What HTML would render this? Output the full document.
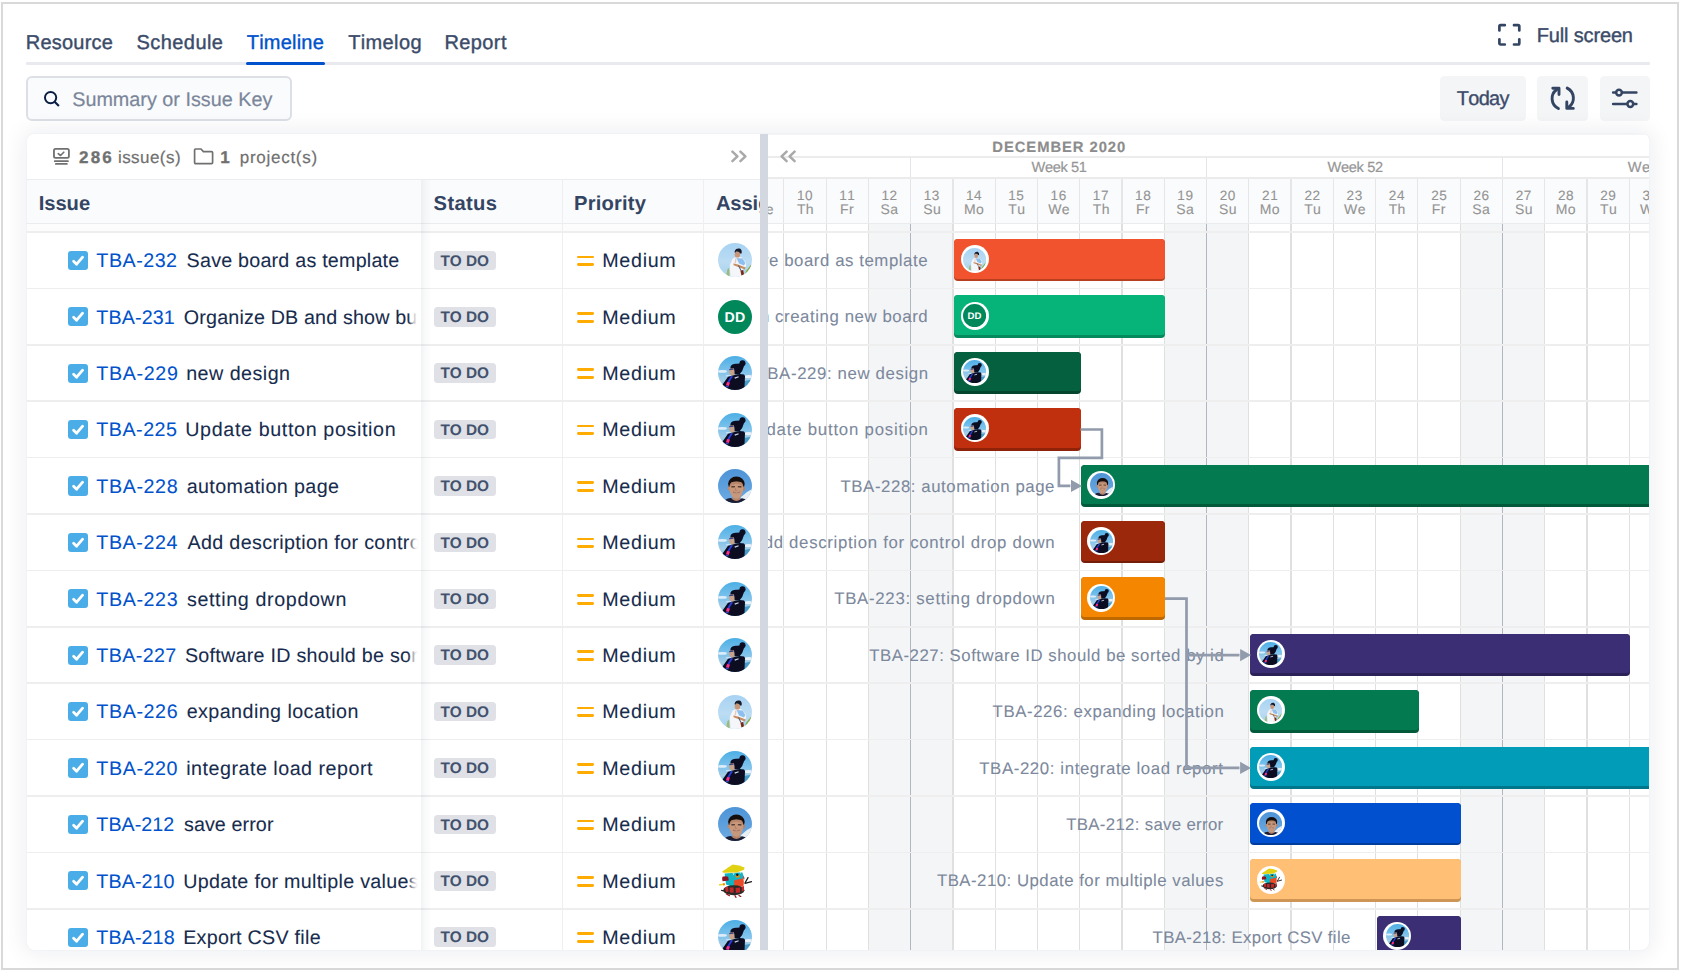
<!DOCTYPE html>
<html lang="en"><head><meta charset="utf-8"><title>Timeline</title>
<style>
html,body{margin:0;padding:0;background:#fff;}
body{width:1681px;height:970px;position:relative;overflow:hidden;font-family:"Liberation Sans",sans-serif;}
.abs{position:absolute;}
.t{position:absolute;white-space:nowrap;text-rendering:geometricPrecision;font-kerning:none;font-family:"Liberation Sans",sans-serif;}
#frame{position:absolute;left:1px;top:2px;width:1674px;height:964px;border:2px solid #d9d9d9;}
#card{position:absolute;left:27px;top:134px;width:1622px;height:816px;border-radius:8px 6px 8px 8px;background:#fff;box-shadow:0 0 22px 4px rgba(9,30,66,.07),0 0 2px rgba(9,30,66,.06);}
#cardin{position:absolute;left:0;top:0;width:1622px;height:816px;border-radius:8px 6px 8px 8px;overflow:hidden;}
.hl{position:absolute;height:1px;background:#e6e8eb;}
.vl{position:absolute;width:1px;background:#e6e8eb;}
.btn{position:absolute;background:#f4f5f7;border-radius:4.5px;}
.lz{position:absolute;background:#ebecf0;border-radius:3.5px;}
.bar{position:absolute;border-radius:4px;}
.av{position:absolute;border-radius:50%;overflow:hidden;}
svg{display:block}
</style></head><body>
<svg width="0" height="0" style="position:absolute">
<defs>
<clipPath id="cc"><circle cx="17" cy="17" r="17"/></clipPath>
<filter id="bl" x="-10%" y="-10%" width="120%" height="120%"><feGaussianBlur stdDeviation="0.42"/></filter>
<linearGradient id="gA" x1="0" y1="0" x2="0" y2="1"><stop offset="0" stop-color="#a5d2f3"/><stop offset=".55" stop-color="#bcdcf3"/><stop offset="1" stop-color="#9ed2ee"/></linearGradient>
<linearGradient id="gB" x1="0" y1="0" x2="0" y2="1"><stop offset="0" stop-color="#47ace4"/><stop offset=".45" stop-color="#7cc2ec"/><stop offset=".7" stop-color="#a5cde6"/><stop offset="1" stop-color="#5aa6cf"/></linearGradient>
<linearGradient id="gC" x1="0" y1="0" x2="0" y2="1"><stop offset="0" stop-color="#4c93d6"/><stop offset="1" stop-color="#6eabe3"/></linearGradient>
<symbol id="avA" viewBox="0 0 34 34"><g clip-path="url(#cc)">
<rect x="-2" y="-2" width="38" height="38" fill="url(#gA)"/><g filter="url(#bl)">
<path d="M28 28 L33.5 21 L34 34 L26 34Z" fill="#86ad45"/>
<path d="M9.5 26 L11 25 L11.5 34 L8 34Z" fill="#a4b868"/>
<path d="M14.7 15.6 Q18 13.6 23.6 14.3 L27.6 19 L28.2 23.6 L25.4 24.2 L24.4 34 L12.4 34 L11.8 22Z" fill="#f4f6fa"/>
<path d="M18.6 15 L24.6 15.4 L27.4 20 L26 22.6 L21 20.4Z" fill="#8ec0ef"/>
<path d="M17.2 15.4 L18.6 15 L18 20 L16.6 20.5Z" fill="#e7c9bb"/>
<ellipse cx="19.4" cy="11.4" rx="2.7" ry="3.2" fill="#c99778"/>
<path d="M16.6 8.6 Q17.6 5 21.4 5.6 Q24.4 6.4 23.6 10.6 L22.2 10.4 Q21 7.8 18 8.6 L17 10Z" fill="#181a2a"/>
<path d="M15.4 20.4 Q20 21 27.4 24.6 L27 26.4 Q20.6 24 15.6 22.2Z" fill="#c78c5e"/>
<path d="M22.4 27.4 L25.2 27 L26 31.4 L23.4 32.6Z" fill="#7b2b15"/>
<path d="M20 22.4 L22.4 27.6 L23.4 27.2 L21 22.6Z" fill="#4e5a6a"/>
</g></g></symbol>
<symbol id="avB" viewBox="0 0 34 34"><g clip-path="url(#cc)">
<rect x="-2" y="-2" width="38" height="38" fill="url(#gB)"/><g filter="url(#bl)">
<ellipse cx="4" cy="15.400" rx="5" ry="1.400" fill="#e9f2fa" opacity=".9"/>
<ellipse cx="30.600" cy="20.600" rx="4.400" ry="1.600" fill="#eef4fa" opacity=".95"/>
<ellipse cx="10.500" cy="19.800" rx="3" ry=".8" fill="#dceaf6" opacity=".8"/>
<path d="M25.500 25 L35 23.400 L35 35 L24 35Z" fill="#4a9cc8"/>
<path d="M11.200 13.400 Q11.600 11.600 14 11.600 L16.600 12.600 L17 18.400 Q15.600 20.200 13.200 19.600 Q11.400 18.600 11 16.200Z" fill="#c8a38c"/>
<path d="M11.200 12.900 L15.400 12.300 L15.600 13.800 L11.300 14.300Z" fill="#3b4184"/>
<circle cx="24.500" cy="7.300" r="3" fill="#080b22"/>
<path d="M12.600 10.400 Q14 7.400 19 7.800 Q22.600 7.200 24.500 7.300 L26 10 Q24.800 15 21.800 18 L16.600 18.200 Q16.600 13.400 15.600 12 L12.400 12.400Z" fill="#080b22"/>
<path d="M3.600 30 L10 20.800 L15 19.400 Q20 17 26 18.400 L27 20 L26.400 33 L17 36 L7 34Z" fill="#070a20"/>
<path d="M13 19.800 L15 20.400 L10.800 27 L9 26.400Z" fill="#2b3cd4"/>
<path d="M9 26 L12 26.600 L10.800 30 L8 29.200Z" fill="#ff2d8a"/>
<path d="M7.800 29.400 L10.800 30.200 L10.400 31.600 L7.400 30.800Z" fill="#3646c8"/>
<path d="M16.400 21.600 L20.400 20.200 L20.800 21.200 L17 22.800Z" fill="#cfd8e8"/>
</g></g></symbol>
<symbol id="avC" viewBox="0 0 34 34"><g clip-path="url(#cc)">
<rect x="-2" y="-2" width="38" height="38" fill="url(#gC)"/><g filter="url(#bl)">
<path d="M22.500 28.600 Q28 22.600 35 19.400 L35 29.500 L27 32.500Z" fill="#e9eef3"/>
<path d="M5 32.400 Q9.500 29 12.800 29 Q18.400 33 24 29.200 L30 31 L23 36 L9 36Z" fill="#1b1a30"/>
<path d="M15 27 L21.800 27 L22.400 30.600 Q18.400 33.400 14.400 30.600Z" fill="#b98466"/>
<ellipse cx="18.400" cy="14.800" rx="8.300" ry="7.300" fill="#17110f"/>
<ellipse cx="10.900" cy="19.600" rx="1.300" ry="2.100" fill="#bd896c"/>
<ellipse cx="25.800" cy="19.600" rx="1.200" ry="2.100" fill="#b68266"/>
<path d="M11.500 18 Q11.600 13.600 14.600 12.900 Q18.400 12 22.200 12.900 Q25.200 13.600 25.300 18 Q25.300 24 22.400 27.800 Q18.400 31.600 14.400 27.800 Q11.500 24 11.500 18Z" fill="#c8987c"/>
<path d="M11.500 18 Q11.600 13.600 14.600 12.900 Q18.400 12 22.200 12.900 Q25.200 13.600 25.300 18 Q22 14.600 18.400 14.800 Q14.800 14.600 11.500 18Z" fill="#a8775c" opacity=".55"/>
<path d="M13.400 17.900 L17 17.700 M19.800 17.700 L23.400 17.900" stroke="#3a231b" stroke-width="1.100" fill="none"/>
<path d="M17.600 19 L17.200 21.400 L19.400 21.400" stroke="#a87458" stroke-width=".6" fill="none"/>
<path d="M15 23.200 Q18.400 26 21.800 23.200 Q18.400 24 15 23.200Z" fill="#f2e6df" stroke="#8a5040" stroke-width=".5"/>
</g></g></symbol>
<symbol id="avD" viewBox="0 0 34 34"><g clip-path="url(#cc)">
<rect width="34" height="34" fill="#ffffff"/>
<path d="M27 19 L30 13.6 M27 19.4 L33.6 17.6" stroke="#1c1c1c" stroke-width="1.3" stroke-linecap="round"/>
<path d="M1.6 20.8 L6.6 20.2" stroke="#e6d21e" stroke-width="1.4" stroke-linecap="round"/>
<path d="M5 20.4 L6.8 20.2" stroke="#ee8a1e" stroke-width="2.2"/>
<path d="M3.4 26.4 L6 27" stroke="#1c1c1c" stroke-width="1.2" stroke-linecap="round"/>
<path d="M6.6 9.4 L24.2 8.2 Q26 11 25.4 14.6 L16 23.2 L8 20.4Z" fill="#11b4c2"/>
<path d="M16.1 16.2 L25.4 14.2 Q26.4 18 25.4 22.4 L16.1 23.6Z" fill="#e94b26"/>
<path d="M25 11.4 Q26.8 12.6 26.4 15.6 L25.4 14.4Z" fill="#a81c2a"/>
<path d="M4.4 12.8 Q7 11.6 10.2 12.8 L10.8 16.4 L4.6 17.2 Q3.8 15 4.4 12.8Z" fill="#8c1224"/>
<ellipse cx="15.8" cy="26.2" rx="10.6" ry="5" fill="#2a2a27"/>
<path d="M6.8 23.4 L10 22.6 L10.6 27.6 L8 28.2Z M11.6 23.4 L15.6 23.6 L15.6 28.8 L11.8 28.6Z M17.6 24 L22 23.4 L22 28.6 L17.8 29Z M23.6 23 L26 22 L26 26.6 L23.8 27.6Z" fill="#c2272b"/>
<path d="M8.4 30 L11.4 31.6 M17 31.6 L18 33.4 M21 31.4 L23 32.8" stroke="#9a1a20" stroke-width="1.2" stroke-linecap="round"/>
<path d="M4.2 7.6 L14.6 .6 Q21 1.2 26.6 3.6 L26 5.8 Q22 7.6 18.6 8.4 L5 8.8Z" fill="#e1d113"/>
<path d="M14.4 9.6 L16.6 9.2 L15.6 11Z M21.6 8.6 L23.6 8.2 L22.8 9.8Z" fill="#f4f4ee"/>
<ellipse cx="19.6" cy="12.2" rx="2.4" ry="1.5" fill="#d98a1c"/>
<circle cx="19.3" cy="10.8" r="1.2" fill="#121212"/>
</g></symbol>
<symbol id="avDD" viewBox="0 0 34 34"><circle cx="17" cy="17" r="17" fill="#00875a"/></symbol>
</defs></svg>

<div id="frame"></div>
<span class="t" style="left:25.76px;top:33px;font-size:20.0px;line-height:20.0px;font-weight:400;color:#3b4b69;letter-spacing:0.233px;-webkit-text-stroke:0.38px #3b4b69;">Resource</span>
<span class="t" style="left:136.49px;top:33px;font-size:20.0px;line-height:20.0px;font-weight:400;color:#3b4b69;letter-spacing:0.443px;-webkit-text-stroke:0.38px #3b4b69;">Schedule</span>
<span class="t" style="left:246.75px;top:33px;font-size:20.0px;line-height:20.0px;font-weight:400;color:#0052cc;letter-spacing:0.209px;-webkit-text-stroke:0.38px #0052cc;">Timeline</span>
<span class="t" style="left:348.15px;top:33px;font-size:20.0px;line-height:20.0px;font-weight:400;color:#3b4b69;letter-spacing:0.384px;-webkit-text-stroke:0.38px #3b4b69;">Timelog</span>
<span class="t" style="left:444.46px;top:33px;font-size:20.0px;line-height:20.0px;font-weight:400;color:#3b4b69;letter-spacing:0.392px;-webkit-text-stroke:0.38px #3b4b69;">Report</span>
<div class="abs" style="left:26px;top:62.4px;width:1624px;height:2.4px;background:#e9eaef;border-radius:1px"></div>
<div class="abs" style="left:246px;top:61.6px;width:79px;height:3.5px;background:#0052cc;border-radius:2px"></div>
<svg class="abs" style="left:0;top:0" width="1681" height="130" viewBox="0 0 1681 130" fill="none" stroke="#344563" stroke-width="2.7" stroke-linecap="round" stroke-linejoin="round"><path d="M1499.4 30.4V26.400a1.200 1.200 0 0 1 1.200-1.200H1504.800M1514 25.200h4.100a1.200 1.200 0 0 1 1.200 1.200V30.400M1519.300 39.300v4a1.200 1.200 0 0 1-1.200 1.200H1514M1504.800 44.500h-4.200a1.200 1.200 0 0 1-1.200-1.200V39.300"/></svg>
<span class="t" style="left:1536.76px;top:26px;font-size:20.0px;line-height:20.0px;font-weight:400;color:#3b4b69;letter-spacing:-0.157px;-webkit-text-stroke:0.38px #3b4b69;">Full screen</span>
<div class="abs" style="left:26px;top:76px;width:262px;height:41px;border:2px solid #dcdfe5;border-radius:6px;background:#fafbfc"></div>
<svg class="abs" style="left:40px;top:86px" width="24" height="24" viewBox="40 86 24 24" fill="none" stroke="#091e42" stroke-width="1.95"><circle cx="50.6" cy="97.6" r="5.65"/><path d="M54.6 101.700 L58.900 106.050" stroke-width="2.1"/></svg>
<span class="t" style="left:72.20px;top:91px;font-size:19.8px;line-height:19.8px;font-weight:400;color:#7a869a;letter-spacing:0.004px;-webkit-text-stroke:0.2px #7a869a;">Summary or Issue Key</span>
<div class="btn" style="left:1440.3px;top:76px;width:85.9px;height:44.8px"></div>
<span class="t" style="left:1456.85px;top:90px;font-size:19.9px;line-height:19.9px;font-weight:400;color:#3b4b69;letter-spacing:-0.681px;-webkit-text-stroke:0.35px #3b4b69;">Today</span>
<div class="btn" style="left:1537.3px;top:76px;width:50.7px;height:44.8px"></div>
<div class="btn" style="left:1599.5px;top:76px;width:50.3px;height:44.8px"></div>
<svg class="abs" style="left:1540px;top:80px" width="44" height="36" viewBox="1540 80 44 36" fill="none" stroke="#344563" stroke-width="2.9" stroke-linecap="round" stroke-linejoin="round"><path d="M1558.400 108.500C1550.600 104.600 1550 94.400 1556.800 89.500"/><path d="M1552.800 88.300H1559V94.500"/><path d="M1567.200 88.100C1574.800 92 1575.400 102 1569 107"/><path d="M1573.300 108.400H1566.800V101.900"/></svg>
<svg class="abs" style="left:1606px;top:82px" width="38" height="32" viewBox="1606 82 38 32" fill="none" stroke="#344563" stroke-width="2.5" stroke-linecap="round"><path d="M1613.100 92.600H1616M1622 92.600H1636.400M1613.100 104H1627.300M1633.300 104H1636.400"/><circle cx="1619" cy="92.600" r="2.900"/><circle cx="1630.300" cy="104" r="2.900"/></svg>
<div id="card"><div id="cardin">
<div class="abs" style="left:841.08px;top:90.00px;width:42.27px;height:730.00px;background:#f4f5f7"></div>
<div class="abs" style="left:883.35px;top:90.00px;width:42.27px;height:730.00px;background:#f4f5f7"></div>
<div class="abs" style="left:1136.97px;top:90.00px;width:42.27px;height:730.00px;background:#f4f5f7"></div>
<div class="abs" style="left:1179.24px;top:90.00px;width:42.27px;height:730.00px;background:#f4f5f7"></div>
<div class="abs" style="left:1432.86px;top:90.00px;width:42.27px;height:730.00px;background:#f4f5f7"></div>
<div class="abs" style="left:1475.13px;top:90.00px;width:42.27px;height:730.00px;background:#f4f5f7"></div>
<div class="abs" style="left:740.00px;top:44.00px;width:900.00px;height:46.00px;background:#fafbfc"></div>
<div class="abs" style="left:756.24px;top:44.00px;width:1.20px;height:46.00px;background:#e6e6e8"></div>
<div class="abs" style="left:756.24px;top:90.00px;width:1.20px;height:730.00px;background:#e0e0e1"></div>
<div class="abs" style="left:798.51px;top:44.00px;width:1.20px;height:46.00px;background:#e6e6e8"></div>
<div class="abs" style="left:798.51px;top:90.00px;width:1.20px;height:730.00px;background:#e0e0e1"></div>
<div class="abs" style="left:840.78px;top:44.00px;width:1.20px;height:46.00px;background:#e6e6e8"></div>
<div class="abs" style="left:840.78px;top:90.00px;width:1.20px;height:730.00px;background:#e0e0e1"></div>
<div class="abs" style="left:883.00px;top:23.00px;width:1.30px;height:67.00px;background:#e4e5e8"></div>
<div class="abs" style="left:882.80px;top:90.00px;width:1.70px;height:730.00px;background:#b2b6bf"></div>
<div class="abs" style="left:925.32px;top:44.00px;width:1.20px;height:46.00px;background:#e6e6e8"></div>
<div class="abs" style="left:925.32px;top:90.00px;width:1.20px;height:730.00px;background:#e0e0e1"></div>
<div class="abs" style="left:967.59px;top:44.00px;width:1.20px;height:46.00px;background:#e6e6e8"></div>
<div class="abs" style="left:967.59px;top:90.00px;width:1.20px;height:730.00px;background:#e0e0e1"></div>
<div class="abs" style="left:1009.86px;top:44.00px;width:1.20px;height:46.00px;background:#e6e6e8"></div>
<div class="abs" style="left:1009.86px;top:90.00px;width:1.20px;height:730.00px;background:#e0e0e1"></div>
<div class="abs" style="left:1052.13px;top:44.00px;width:1.20px;height:46.00px;background:#e6e6e8"></div>
<div class="abs" style="left:1052.13px;top:90.00px;width:1.20px;height:730.00px;background:#e0e0e1"></div>
<div class="abs" style="left:1094.40px;top:44.00px;width:1.20px;height:46.00px;background:#e6e6e8"></div>
<div class="abs" style="left:1094.40px;top:90.00px;width:1.20px;height:730.00px;background:#e0e0e1"></div>
<div class="abs" style="left:1136.67px;top:44.00px;width:1.20px;height:46.00px;background:#e6e6e8"></div>
<div class="abs" style="left:1136.67px;top:90.00px;width:1.20px;height:730.00px;background:#e0e0e1"></div>
<div class="abs" style="left:1178.89px;top:23.00px;width:1.30px;height:67.00px;background:#e4e5e8"></div>
<div class="abs" style="left:1178.69px;top:90.00px;width:1.70px;height:730.00px;background:#b2b6bf"></div>
<div class="abs" style="left:1221.21px;top:44.00px;width:1.20px;height:46.00px;background:#e6e6e8"></div>
<div class="abs" style="left:1221.21px;top:90.00px;width:1.20px;height:730.00px;background:#e0e0e1"></div>
<div class="abs" style="left:1263.48px;top:44.00px;width:1.20px;height:46.00px;background:#e6e6e8"></div>
<div class="abs" style="left:1263.48px;top:90.00px;width:1.20px;height:730.00px;background:#e0e0e1"></div>
<div class="abs" style="left:1305.75px;top:44.00px;width:1.20px;height:46.00px;background:#e6e6e8"></div>
<div class="abs" style="left:1305.75px;top:90.00px;width:1.20px;height:730.00px;background:#e0e0e1"></div>
<div class="abs" style="left:1348.02px;top:44.00px;width:1.20px;height:46.00px;background:#e6e6e8"></div>
<div class="abs" style="left:1348.02px;top:90.00px;width:1.20px;height:730.00px;background:#e0e0e1"></div>
<div class="abs" style="left:1390.29px;top:44.00px;width:1.20px;height:46.00px;background:#e6e6e8"></div>
<div class="abs" style="left:1390.29px;top:90.00px;width:1.20px;height:730.00px;background:#e0e0e1"></div>
<div class="abs" style="left:1432.56px;top:44.00px;width:1.20px;height:46.00px;background:#e6e6e8"></div>
<div class="abs" style="left:1432.56px;top:90.00px;width:1.20px;height:730.00px;background:#e0e0e1"></div>
<div class="abs" style="left:1474.78px;top:23.00px;width:1.30px;height:67.00px;background:#e4e5e8"></div>
<div class="abs" style="left:1474.58px;top:90.00px;width:1.70px;height:730.00px;background:#b2b6bf"></div>
<div class="abs" style="left:1517.10px;top:44.00px;width:1.20px;height:46.00px;background:#e6e6e8"></div>
<div class="abs" style="left:1517.10px;top:90.00px;width:1.20px;height:730.00px;background:#e0e0e1"></div>
<div class="abs" style="left:1559.37px;top:44.00px;width:1.20px;height:46.00px;background:#e6e6e8"></div>
<div class="abs" style="left:1559.37px;top:90.00px;width:1.20px;height:730.00px;background:#e0e0e1"></div>
<div class="abs" style="left:1601.64px;top:44.00px;width:1.20px;height:46.00px;background:#e6e6e8"></div>
<div class="abs" style="left:1601.64px;top:90.00px;width:1.20px;height:730.00px;background:#e0e0e1"></div>
<div class="abs" style="left:1643.91px;top:44.00px;width:1.20px;height:46.00px;background:#e6e6e8"></div>
<div class="abs" style="left:1643.91px;top:90.00px;width:1.20px;height:730.00px;background:#e0e0e1"></div>
<div class="abs" style="left:740.00px;top:22.20px;width:900.00px;height:1.40px;background:#ececec"></div>
<div class="abs" style="left:740.00px;top:43.40px;width:900.00px;height:1.40px;background:#ebebec"></div>
<div class="abs" style="left:740.00px;top:89.00px;width:900.00px;height:1.40px;background:#ebebec"></div>
<div class="abs" style="left:740.00px;top:97.20px;width:900.00px;height:1.60px;background:#eeeeef"></div>
<div class="abs" style="left:740.00px;top:153.60px;width:900.00px;height:1.60px;background:#eeeeef"></div>
<div class="abs" style="left:740.00px;top:210.00px;width:900.00px;height:1.60px;background:#eeeeef"></div>
<div class="abs" style="left:740.00px;top:266.40px;width:900.00px;height:1.60px;background:#eeeeef"></div>
<div class="abs" style="left:740.00px;top:322.80px;width:900.00px;height:1.60px;background:#eeeeef"></div>
<div class="abs" style="left:740.00px;top:379.20px;width:900.00px;height:1.60px;background:#eeeeef"></div>
<div class="abs" style="left:740.00px;top:435.60px;width:900.00px;height:1.60px;background:#eeeeef"></div>
<div class="abs" style="left:740.00px;top:492.00px;width:900.00px;height:1.60px;background:#eeeeef"></div>
<div class="abs" style="left:740.00px;top:548.40px;width:900.00px;height:1.60px;background:#eeeeef"></div>
<div class="abs" style="left:740.00px;top:604.80px;width:900.00px;height:1.60px;background:#eeeeef"></div>
<div class="abs" style="left:740.00px;top:661.20px;width:900.00px;height:1.60px;background:#eeeeef"></div>
<div class="abs" style="left:740.00px;top:717.60px;width:900.00px;height:1.60px;background:#eeeeef"></div>
<div class="abs" style="left:740.00px;top:774.00px;width:900.00px;height:1.60px;background:#eeeeef"></div>
<div class="abs" style="left:740.00px;top:830.40px;width:900.00px;height:1.60px;background:#eeeeef"></div>
<span class="t" style="left:965.31px;top:7px;font-size:14.8px;line-height:14.8px;font-weight:700;color:#8c8c8c;letter-spacing:0.939px;-webkit-text-stroke:0.15px #8c8c8c;">DECEMBER 2020</span>
<span class="t" style="left:1004.54px;top:27px;font-size:14.6px;line-height:14.6px;font-weight:400;color:#969696;letter-spacing:-0.373px;-webkit-text-stroke:0.2px #969696;">Week 51</span>
<span class="t" style="left:1300.44px;top:27px;font-size:14.6px;line-height:14.6px;font-weight:400;color:#969696;letter-spacing:-0.303px;-webkit-text-stroke:0.2px #969696;">Week 52</span>
<span class="t" style="left:1600.84px;top:27px;font-size:14.6px;line-height:14.6px;font-weight:400;color:#969696;letter-spacing:0.350px;-webkit-text-stroke:0.2px #969696;">Week 53</span>
<span class="t" style="left:731.93px;top:55px;font-size:13.6px;line-height:13.6px;font-weight:400;color:#939393;letter-spacing:0.550px;-webkit-text-stroke:0.1px #939393;">9</span>
<span class="t" style="left:725.31px;top:68px;font-size:14.0px;line-height:14.0px;font-weight:400;color:#939393;letter-spacing:0.350px;-webkit-text-stroke:0.1px #939393;">We</span>
<span class="t" style="left:769.88px;top:55px;font-size:13.6px;line-height:13.6px;font-weight:400;color:#939393;letter-spacing:0.550px;-webkit-text-stroke:0.1px #939393;">10</span>
<span class="t" style="left:769.93px;top:68px;font-size:14.0px;line-height:14.0px;font-weight:400;color:#939393;letter-spacing:0.350px;-webkit-text-stroke:0.1px #939393;">Th</span>
<span class="t" style="left:812.22px;top:55px;font-size:13.6px;line-height:13.6px;font-weight:400;color:#939393;letter-spacing:0.550px;-webkit-text-stroke:0.1px #939393;">11</span>
<span class="t" style="left:813.01px;top:68px;font-size:14.0px;line-height:14.0px;font-weight:400;color:#939393;letter-spacing:0.350px;-webkit-text-stroke:0.1px #939393;">Fr</span>
<span class="t" style="left:854.50px;top:55px;font-size:13.6px;line-height:13.6px;font-weight:400;color:#939393;letter-spacing:0.550px;-webkit-text-stroke:0.1px #939393;">12</span>
<span class="t" style="left:853.46px;top:68px;font-size:14.0px;line-height:14.0px;font-weight:400;color:#939393;letter-spacing:0.350px;-webkit-text-stroke:0.1px #939393;">Sa</span>
<span class="t" style="left:896.73px;top:55px;font-size:13.6px;line-height:13.6px;font-weight:400;color:#939393;letter-spacing:0.550px;-webkit-text-stroke:0.1px #939393;">13</span>
<span class="t" style="left:896.19px;top:68px;font-size:14.0px;line-height:14.0px;font-weight:400;color:#939393;letter-spacing:0.350px;-webkit-text-stroke:0.1px #939393;">Su</span>
<span class="t" style="left:938.90px;top:55px;font-size:13.6px;line-height:13.6px;font-weight:400;color:#939393;letter-spacing:0.550px;-webkit-text-stroke:0.1px #939393;">14</span>
<span class="t" style="left:936.88px;top:68px;font-size:14.0px;line-height:14.0px;font-weight:400;color:#939393;letter-spacing:0.350px;-webkit-text-stroke:0.1px #939393;">Mo</span>
<span class="t" style="left:981.25px;top:55px;font-size:13.6px;line-height:13.6px;font-weight:400;color:#939393;letter-spacing:0.550px;-webkit-text-stroke:0.1px #939393;">15</span>
<span class="t" style="left:981.29px;top:68px;font-size:14.0px;line-height:14.0px;font-weight:400;color:#939393;letter-spacing:0.350px;-webkit-text-stroke:0.1px #939393;">Tu</span>
<span class="t" style="left:1023.54px;top:55px;font-size:13.6px;line-height:13.6px;font-weight:400;color:#939393;letter-spacing:0.550px;-webkit-text-stroke:0.1px #939393;">16</span>
<span class="t" style="left:1021.20px;top:68px;font-size:14.0px;line-height:14.0px;font-weight:400;color:#939393;letter-spacing:0.350px;-webkit-text-stroke:0.1px #939393;">We</span>
<span class="t" style="left:1065.85px;top:55px;font-size:13.6px;line-height:13.6px;font-weight:400;color:#939393;letter-spacing:0.550px;-webkit-text-stroke:0.1px #939393;">17</span>
<span class="t" style="left:1065.82px;top:68px;font-size:14.0px;line-height:14.0px;font-weight:400;color:#939393;letter-spacing:0.350px;-webkit-text-stroke:0.1px #939393;">Th</span>
<span class="t" style="left:1108.07px;top:55px;font-size:13.6px;line-height:13.6px;font-weight:400;color:#939393;letter-spacing:0.550px;-webkit-text-stroke:0.1px #939393;">18</span>
<span class="t" style="left:1108.90px;top:68px;font-size:14.0px;line-height:14.0px;font-weight:400;color:#939393;letter-spacing:0.350px;-webkit-text-stroke:0.1px #939393;">Fr</span>
<span class="t" style="left:1150.37px;top:55px;font-size:13.6px;line-height:13.6px;font-weight:400;color:#939393;letter-spacing:0.550px;-webkit-text-stroke:0.1px #939393;">19</span>
<span class="t" style="left:1149.35px;top:68px;font-size:14.0px;line-height:14.0px;font-weight:400;color:#939393;letter-spacing:0.350px;-webkit-text-stroke:0.1px #939393;">Sa</span>
<span class="t" style="left:1192.76px;top:55px;font-size:13.6px;line-height:13.6px;font-weight:400;color:#939393;letter-spacing:0.550px;-webkit-text-stroke:0.1px #939393;">20</span>
<span class="t" style="left:1192.08px;top:68px;font-size:14.0px;line-height:14.0px;font-weight:400;color:#939393;letter-spacing:0.350px;-webkit-text-stroke:0.1px #939393;">Su</span>
<span class="t" style="left:1235.10px;top:55px;font-size:13.6px;line-height:13.6px;font-weight:400;color:#939393;letter-spacing:0.550px;-webkit-text-stroke:0.1px #939393;">21</span>
<span class="t" style="left:1232.77px;top:68px;font-size:14.0px;line-height:14.0px;font-weight:400;color:#939393;letter-spacing:0.350px;-webkit-text-stroke:0.1px #939393;">Mo</span>
<span class="t" style="left:1277.38px;top:55px;font-size:13.6px;line-height:13.6px;font-weight:400;color:#939393;letter-spacing:0.550px;-webkit-text-stroke:0.1px #939393;">22</span>
<span class="t" style="left:1277.18px;top:68px;font-size:14.0px;line-height:14.0px;font-weight:400;color:#939393;letter-spacing:0.350px;-webkit-text-stroke:0.1px #939393;">Tu</span>
<span class="t" style="left:1319.60px;top:55px;font-size:13.6px;line-height:13.6px;font-weight:400;color:#939393;letter-spacing:0.550px;-webkit-text-stroke:0.1px #939393;">23</span>
<span class="t" style="left:1317.09px;top:68px;font-size:14.0px;line-height:14.0px;font-weight:400;color:#939393;letter-spacing:0.350px;-webkit-text-stroke:0.1px #939393;">We</span>
<span class="t" style="left:1361.77px;top:55px;font-size:13.6px;line-height:13.6px;font-weight:400;color:#939393;letter-spacing:0.550px;-webkit-text-stroke:0.1px #939393;">24</span>
<span class="t" style="left:1361.71px;top:68px;font-size:14.0px;line-height:14.0px;font-weight:400;color:#939393;letter-spacing:0.350px;-webkit-text-stroke:0.1px #939393;">Th</span>
<span class="t" style="left:1404.13px;top:55px;font-size:13.6px;line-height:13.6px;font-weight:400;color:#939393;letter-spacing:0.550px;-webkit-text-stroke:0.1px #939393;">25</span>
<span class="t" style="left:1404.79px;top:68px;font-size:14.0px;line-height:14.0px;font-weight:400;color:#939393;letter-spacing:0.350px;-webkit-text-stroke:0.1px #939393;">Fr</span>
<span class="t" style="left:1446.41px;top:55px;font-size:13.6px;line-height:13.6px;font-weight:400;color:#939393;letter-spacing:0.550px;-webkit-text-stroke:0.1px #939393;">26</span>
<span class="t" style="left:1445.24px;top:68px;font-size:14.0px;line-height:14.0px;font-weight:400;color:#939393;letter-spacing:0.350px;-webkit-text-stroke:0.1px #939393;">Sa</span>
<span class="t" style="left:1488.73px;top:55px;font-size:13.6px;line-height:13.6px;font-weight:400;color:#939393;letter-spacing:0.550px;-webkit-text-stroke:0.1px #939393;">27</span>
<span class="t" style="left:1487.97px;top:68px;font-size:14.0px;line-height:14.0px;font-weight:400;color:#939393;letter-spacing:0.350px;-webkit-text-stroke:0.1px #939393;">Su</span>
<span class="t" style="left:1530.95px;top:55px;font-size:13.6px;line-height:13.6px;font-weight:400;color:#939393;letter-spacing:0.550px;-webkit-text-stroke:0.1px #939393;">28</span>
<span class="t" style="left:1528.66px;top:68px;font-size:14.0px;line-height:14.0px;font-weight:400;color:#939393;letter-spacing:0.350px;-webkit-text-stroke:0.1px #939393;">Mo</span>
<span class="t" style="left:1573.25px;top:55px;font-size:13.6px;line-height:13.6px;font-weight:400;color:#939393;letter-spacing:0.550px;-webkit-text-stroke:0.1px #939393;">29</span>
<span class="t" style="left:1573.07px;top:68px;font-size:14.0px;line-height:14.0px;font-weight:400;color:#939393;letter-spacing:0.350px;-webkit-text-stroke:0.1px #939393;">Tu</span>
<span class="t" style="left:1615.54px;top:55px;font-size:13.6px;line-height:13.6px;font-weight:400;color:#939393;letter-spacing:0.550px;-webkit-text-stroke:0.1px #939393;">30</span>
<span class="t" style="left:1612.98px;top:68px;font-size:14.0px;line-height:14.0px;font-weight:400;color:#939393;letter-spacing:0.350px;-webkit-text-stroke:0.1px #939393;">We</span>
<span class="t" style="left:1657.88px;top:55px;font-size:13.6px;line-height:13.6px;font-weight:400;color:#939393;letter-spacing:0.550px;-webkit-text-stroke:0.1px #939393;">31</span>
<span class="t" style="left:1657.60px;top:68px;font-size:14.0px;line-height:14.0px;font-weight:400;color:#939393;letter-spacing:0.350px;-webkit-text-stroke:0.1px #939393;">Th</span>
<svg class="abs" style="left:752px;top:15px" width="19" height="15" viewBox="0 0 19 15" fill="none" stroke="#a9a9a9" stroke-width="2.5" stroke-linecap="round" stroke-linejoin="round"><path d="M7.6 2.6 L2.6 7.4 L7.6 12.200 M15.600 2.600 L10.600 7.400 L15.600 12.200"/></svg>
<div class="abs" style="left:926.82px;top:105.00px;width:211.45px;height:42.40px;background:#b8401f;border-radius:4px"></div>
<div class="abs" style="left:926.82px;top:105.00px;width:211.45px;height:39.60px;background:#f0532d;border-radius:4px 4px 3.5px 3.5px"></div>
<span class="t" style="left:630.69px;top:119px;font-size:16.8px;line-height:16.8px;font-weight:400;color:#7c889c;letter-spacing:0.570px;-webkit-text-stroke:0.08px #7c889c;">TBA-232: Save board as template</span>
<div class="abs" style="left:926.82px;top:161.40px;width:211.45px;height:42.40px;background:#048a5c;border-radius:4px"></div>
<div class="abs" style="left:926.82px;top:161.40px;width:211.45px;height:39.60px;background:#06b47a;border-radius:4px 4px 3.5px 3.5px"></div>
<span class="t" style="left:374.83px;top:175px;font-size:16.8px;line-height:16.8px;font-weight:400;color:#7c889c;letter-spacing:0.580px;-webkit-text-stroke:0.08px #7c889c;">TBA-231: Organize DB and show button when creating new board</span>
<div class="abs" style="left:926.82px;top:217.80px;width:126.91px;height:42.40px;background:#03452d;border-radius:4px"></div>
<div class="abs" style="left:926.82px;top:217.80px;width:126.91px;height:39.60px;background:#04603f;border-radius:4px 4px 3.5px 3.5px"></div>
<span class="t" style="left:729.43px;top:232px;font-size:16.8px;line-height:16.8px;font-weight:400;color:#7c889c;letter-spacing:0.620px;-webkit-text-stroke:0.08px #7c889c;">TBA-229: new design</span>
<div class="abs" style="left:926.82px;top:274.20px;width:126.91px;height:42.40px;background:#8f230a;border-radius:4px"></div>
<div class="abs" style="left:926.82px;top:274.20px;width:126.91px;height:39.60px;background:#c0300e;border-radius:4px 4px 3.5px 3.5px"></div>
<span class="t" style="left:633.76px;top:288px;font-size:16.8px;line-height:16.8px;font-weight:400;color:#7c889c;letter-spacing:0.790px;-webkit-text-stroke:0.08px #7c889c;">TBA-225: Update button position</span>
<div class="abs" style="left:1053.63px;top:330.60px;width:1014.58px;height:42.40px;background:#025a3a;border-radius:4px"></div>
<div class="abs" style="left:1053.63px;top:330.60px;width:1014.58px;height:39.60px;background:#037a50;border-radius:4px 4px 3.5px 3.5px"></div>
<span class="t" style="left:813.52px;top:345px;font-size:16.8px;line-height:16.8px;font-weight:400;color:#7c889c;letter-spacing:0.581px;-webkit-text-stroke:0.08px #7c889c;">TBA-228: automation page</span>
<div class="abs" style="left:1053.63px;top:387.00px;width:84.64px;height:42.40px;background:#741d08;border-radius:4px"></div>
<div class="abs" style="left:1053.63px;top:387.00px;width:84.64px;height:39.60px;background:#9c280c;border-radius:4px 4px 3.5px 3.5px"></div>
<span class="t" style="left:643.05px;top:401px;font-size:16.8px;line-height:16.8px;font-weight:400;color:#7c889c;letter-spacing:0.690px;-webkit-text-stroke:0.08px #7c889c;">TBA-224: Add description for control drop down</span>
<div class="abs" style="left:1053.63px;top:443.40px;width:84.64px;height:42.40px;background:#bd6800;border-radius:4px"></div>
<div class="abs" style="left:1053.63px;top:443.40px;width:84.64px;height:39.60px;background:#f58700;border-radius:4px 4px 3.5px 3.5px"></div>
<span class="t" style="left:807.22px;top:457px;font-size:16.8px;line-height:16.8px;font-weight:400;color:#7c889c;letter-spacing:0.717px;-webkit-text-stroke:0.08px #7c889c;">TBA-223: setting dropdown</span>
<div class="abs" style="left:1222.71px;top:499.80px;width:380.53px;height:42.40px;background:#2b2157;border-radius:4px"></div>
<div class="abs" style="left:1222.71px;top:499.80px;width:380.53px;height:39.60px;background:#3b2e75;border-radius:4px 4px 3.5px 3.5px"></div>
<span class="t" style="left:842.22px;top:514px;font-size:16.8px;line-height:16.8px;font-weight:400;color:#7c889c;letter-spacing:0.534px;-webkit-text-stroke:0.08px #7c889c;">TBA-227: Software ID should be sorted by id</span>
<div class="abs" style="left:1222.71px;top:556.20px;width:169.18px;height:42.40px;background:#025a3a;border-radius:4px"></div>
<div class="abs" style="left:1222.71px;top:556.20px;width:169.18px;height:39.60px;background:#037a50;border-radius:4px 4px 3.5px 3.5px"></div>
<span class="t" style="left:965.52px;top:570px;font-size:16.8px;line-height:16.8px;font-weight:400;color:#7c889c;letter-spacing:0.609px;-webkit-text-stroke:0.08px #7c889c;">TBA-226: expanding location</span>
<div class="abs" style="left:1222.71px;top:612.60px;width:845.50px;height:42.40px;background:#00768b;border-radius:4px"></div>
<div class="abs" style="left:1222.71px;top:612.60px;width:845.50px;height:39.60px;background:#009cb8;border-radius:4px 4px 3.5px 3.5px"></div>
<span class="t" style="left:952.22px;top:627px;font-size:16.8px;line-height:16.8px;font-weight:400;color:#7c889c;letter-spacing:0.618px;-webkit-text-stroke:0.08px #7c889c;">TBA-220: integrate load report</span>
<div class="abs" style="left:1222.71px;top:669.00px;width:211.45px;height:42.40px;background:#003c9c;border-radius:4px"></div>
<div class="abs" style="left:1222.71px;top:669.00px;width:211.45px;height:39.60px;background:#0050cf;border-radius:4px 4px 3.5px 3.5px"></div>
<span class="t" style="left:1039.22px;top:683px;font-size:16.8px;line-height:16.8px;font-weight:400;color:#7c889c;letter-spacing:0.323px;-webkit-text-stroke:0.08px #7c889c;">TBA-212: save error</span>
<div class="abs" style="left:1222.71px;top:725.40px;width:211.45px;height:42.40px;background:#cf9555;border-radius:4px"></div>
<div class="abs" style="left:1222.71px;top:725.40px;width:211.45px;height:39.60px;background:#ffbf75;border-radius:4px 4px 3.5px 3.5px"></div>
<span class="t" style="left:909.92px;top:739px;font-size:16.8px;line-height:16.8px;font-weight:400;color:#7c889c;letter-spacing:0.495px;-webkit-text-stroke:0.08px #7c889c;">TBA-210: Update for multiple values</span>
<div class="abs" style="left:1349.52px;top:781.80px;width:84.64px;height:42.40px;background:#2b2157;border-radius:4px"></div>
<div class="abs" style="left:1349.52px;top:781.80px;width:84.64px;height:39.60px;background:#3b2e75;border-radius:4px 4px 3.5px 3.5px"></div>
<span class="t" style="left:1125.52px;top:796px;font-size:16.8px;line-height:16.8px;font-weight:400;color:#7c889c;letter-spacing:0.370px;-webkit-text-stroke:0.08px #7c889c;">TBA-218: Export CSV file</span>
<svg class="abs" style="left:0;top:0" width="1622" height="816" viewBox="27 134 1622 816" fill="none" stroke="#919bab" stroke-width="2.7"><path d="M1080.4 429.5 H1101.9 V457.8 H1058.9 V485.9 H1070.4"/><path d="M1082.0 485.9 l-11 -6.1 v12.2z" fill="#919bab" stroke="none"/><path d="M1165.0 598.7 H1186.5 V767.9 H1239.5 M1186.5 655.1 H1239.5"/><path d="M1251.1 655.1 l-11 -6.1 v12.2z" fill="#919bab" stroke="none"/><path d="M1251.1 767.9 l-11 -6.1 v12.2z" fill="#919bab" stroke="none"/></svg>
<div class="abs" style="left:933.62px;top:111.10px;width:28.00px;height:28.00px;background:#fff;border-radius:50%"></div>
<svg class="abs" style="left:936.02px;top:113.50px" width="23.2" height="23.2"><use href="#avA"/></svg>
<div class="abs" style="left:933.62px;top:167.50px;width:28.00px;height:28.00px;background:#fff;border-radius:50%"></div>
<svg class="abs" style="left:936.02px;top:169.90px" width="23.2" height="23.2"><use href="#avDD"/></svg>
<span class="t" style="left:940.52px;top:178px;font-size:9.6px;line-height:9.6px;font-weight:700;color:#fff;letter-spacing:0.100px;">DD</span>
<div class="abs" style="left:933.62px;top:223.90px;width:28.00px;height:28.00px;background:#fff;border-radius:50%"></div>
<svg class="abs" style="left:936.02px;top:226.30px" width="23.2" height="23.2"><use href="#avB"/></svg>
<div class="abs" style="left:933.62px;top:280.30px;width:28.00px;height:28.00px;background:#fff;border-radius:50%"></div>
<svg class="abs" style="left:936.02px;top:282.70px" width="23.2" height="23.2"><use href="#avB"/></svg>
<div class="abs" style="left:1060.43px;top:336.70px;width:28.00px;height:28.00px;background:#fff;border-radius:50%"></div>
<svg class="abs" style="left:1062.83px;top:339.10px" width="23.2" height="23.2"><use href="#avC"/></svg>
<div class="abs" style="left:1060.43px;top:393.10px;width:28.00px;height:28.00px;background:#fff;border-radius:50%"></div>
<svg class="abs" style="left:1062.83px;top:395.50px" width="23.2" height="23.2"><use href="#avB"/></svg>
<div class="abs" style="left:1060.43px;top:449.50px;width:28.00px;height:28.00px;background:#fff;border-radius:50%"></div>
<svg class="abs" style="left:1062.83px;top:451.90px" width="23.2" height="23.2"><use href="#avB"/></svg>
<div class="abs" style="left:1229.51px;top:505.90px;width:28.00px;height:28.00px;background:#fff;border-radius:50%"></div>
<svg class="abs" style="left:1231.91px;top:508.30px" width="23.2" height="23.2"><use href="#avB"/></svg>
<div class="abs" style="left:1229.51px;top:562.30px;width:28.00px;height:28.00px;background:#fff;border-radius:50%"></div>
<svg class="abs" style="left:1231.91px;top:564.70px" width="23.2" height="23.2"><use href="#avA"/></svg>
<div class="abs" style="left:1229.51px;top:618.70px;width:28.00px;height:28.00px;background:#fff;border-radius:50%"></div>
<svg class="abs" style="left:1231.91px;top:621.10px" width="23.2" height="23.2"><use href="#avB"/></svg>
<div class="abs" style="left:1229.51px;top:675.10px;width:28.00px;height:28.00px;background:#fff;border-radius:50%"></div>
<svg class="abs" style="left:1231.91px;top:677.50px" width="23.2" height="23.2"><use href="#avC"/></svg>
<div class="abs" style="left:1229.51px;top:731.50px;width:28.00px;height:28.00px;background:#fff;border-radius:50%"></div>
<svg class="abs" style="left:1231.91px;top:733.90px" width="23.2" height="23.2"><use href="#avD"/></svg>
<div class="abs" style="left:1356.32px;top:787.90px;width:28.00px;height:28.00px;background:#fff;border-radius:50%"></div>
<svg class="abs" style="left:1358.72px;top:790.30px" width="23.2" height="23.2"><use href="#avB"/></svg>
<div class="abs" style="left:0.00px;top:0.00px;width:733.50px;height:830.00px;background:#fff"></div>
<div class="abs" style="left:0.00px;top:45.50px;width:733.50px;height:44.30px;background:#fafbfc"></div>
<div class="abs" style="left:0.00px;top:89.80px;width:733.50px;height:8.00px;background:#fcfcfd"></div>
<div class="abs" style="left:41.00px;top:116.70px;width:20.00px;height:19.40px;background:#4bade8;border-radius:3px"></div>
<svg class="abs" style="left:41px;top:116.70px" width="20" height="19.4" viewBox="0 0 20 19.4" fill="none" stroke="#fff" stroke-width="2.8" stroke-linecap="round" stroke-linejoin="round"><path d="M5.6 10.300 L8.600 13.200 L14.600 6.200"/></svg>
<span class="t" style="left:69.36px;top:118px;font-size:19.7px;line-height:19.7px;font-weight:400;color:#0052cc;letter-spacing:0.499px;-webkit-text-stroke:0.08px #0052cc;">TBA-232</span>
<span class="t" style="left:159.61px;top:118px;font-size:19.7px;line-height:19.7px;font-weight:400;color:#172b4d;letter-spacing:0.224px;-webkit-text-stroke:0.08px #172b4d;">Save board as template</span>
<div class="abs" style="left:41.00px;top:173.10px;width:20.00px;height:19.40px;background:#4bade8;border-radius:3px"></div>
<svg class="abs" style="left:41px;top:173.10px" width="20" height="19.4" viewBox="0 0 20 19.4" fill="none" stroke="#fff" stroke-width="2.8" stroke-linecap="round" stroke-linejoin="round"><path d="M5.6 10.300 L8.600 13.200 L14.600 6.200"/></svg>
<span class="t" style="left:69.36px;top:175px;font-size:19.7px;line-height:19.7px;font-weight:400;color:#0052cc;letter-spacing:0.127px;-webkit-text-stroke:0.08px #0052cc;">TBA-231</span>
<span class="t" style="left:156.87px;top:175px;font-size:19.7px;line-height:19.7px;font-weight:400;color:#172b4d;letter-spacing:0.163px;-webkit-text-stroke:0.08px #172b4d;">Organize DB and show button when creating new board</span>
<div class="abs" style="left:41.00px;top:229.50px;width:20.00px;height:19.40px;background:#4bade8;border-radius:3px"></div>
<svg class="abs" style="left:41px;top:229.50px" width="20" height="19.4" viewBox="0 0 20 19.4" fill="none" stroke="#fff" stroke-width="2.8" stroke-linecap="round" stroke-linejoin="round"><path d="M5.6 10.300 L8.600 13.200 L14.600 6.200"/></svg>
<span class="t" style="left:69.36px;top:231px;font-size:19.7px;line-height:19.7px;font-weight:400;color:#0052cc;letter-spacing:0.639px;-webkit-text-stroke:0.08px #0052cc;">TBA-229</span>
<span class="t" style="left:159.19px;top:231px;font-size:19.7px;line-height:19.7px;font-weight:400;color:#172b4d;letter-spacing:0.469px;-webkit-text-stroke:0.08px #172b4d;">new design</span>
<div class="abs" style="left:41.00px;top:285.90px;width:20.00px;height:19.40px;background:#4bade8;border-radius:3px"></div>
<svg class="abs" style="left:41px;top:285.90px" width="20" height="19.4" viewBox="0 0 20 19.4" fill="none" stroke="#fff" stroke-width="2.8" stroke-linecap="round" stroke-linejoin="round"><path d="M5.6 10.300 L8.600 13.200 L14.600 6.200"/></svg>
<span class="t" style="left:69.36px;top:287px;font-size:19.7px;line-height:19.7px;font-weight:400;color:#0052cc;letter-spacing:0.488px;-webkit-text-stroke:0.08px #0052cc;">TBA-225</span>
<span class="t" style="left:158.28px;top:287px;font-size:19.7px;line-height:19.7px;font-weight:400;color:#172b4d;letter-spacing:0.636px;-webkit-text-stroke:0.08px #172b4d;">Update button position</span>
<div class="abs" style="left:41.00px;top:342.30px;width:20.00px;height:19.40px;background:#4bade8;border-radius:3px"></div>
<svg class="abs" style="left:41px;top:342.30px" width="20" height="19.4" viewBox="0 0 20 19.4" fill="none" stroke="#fff" stroke-width="2.8" stroke-linecap="round" stroke-linejoin="round"><path d="M5.6 10.300 L8.600 13.200 L14.600 6.200"/></svg>
<span class="t" style="left:69.36px;top:344px;font-size:19.7px;line-height:19.7px;font-weight:400;color:#0052cc;letter-spacing:0.593px;-webkit-text-stroke:0.08px #0052cc;">TBA-228</span>
<span class="t" style="left:159.66px;top:344px;font-size:19.7px;line-height:19.7px;font-weight:400;color:#172b4d;letter-spacing:0.403px;-webkit-text-stroke:0.08px #172b4d;">automation page</span>
<div class="abs" style="left:41.00px;top:398.70px;width:20.00px;height:19.40px;background:#4bade8;border-radius:3px"></div>
<svg class="abs" style="left:41px;top:398.70px" width="20" height="19.4" viewBox="0 0 20 19.4" fill="none" stroke="#fff" stroke-width="2.8" stroke-linecap="round" stroke-linejoin="round"><path d="M5.6 10.300 L8.600 13.200 L14.600 6.200"/></svg>
<span class="t" style="left:69.36px;top:400px;font-size:19.7px;line-height:19.7px;font-weight:400;color:#0052cc;letter-spacing:0.546px;-webkit-text-stroke:0.08px #0052cc;">TBA-224</span>
<span class="t" style="left:160.46px;top:400px;font-size:19.7px;line-height:19.7px;font-weight:400;color:#172b4d;letter-spacing:0.355px;-webkit-text-stroke:0.08px #172b4d;">Add description for control drop down</span>
<div class="abs" style="left:41.00px;top:455.10px;width:20.00px;height:19.40px;background:#4bade8;border-radius:3px"></div>
<svg class="abs" style="left:41px;top:455.10px" width="20" height="19.4" viewBox="0 0 20 19.4" fill="none" stroke="#fff" stroke-width="2.8" stroke-linecap="round" stroke-linejoin="round"><path d="M5.6 10.300 L8.600 13.200 L14.600 6.200"/></svg>
<span class="t" style="left:69.36px;top:457px;font-size:19.7px;line-height:19.7px;font-weight:400;color:#0052cc;letter-spacing:0.594px;-webkit-text-stroke:0.08px #0052cc;">TBA-223</span>
<span class="t" style="left:159.95px;top:457px;font-size:19.7px;line-height:19.7px;font-weight:400;color:#172b4d;letter-spacing:0.633px;-webkit-text-stroke:0.08px #172b4d;">setting dropdown</span>
<div class="abs" style="left:41.00px;top:511.50px;width:20.00px;height:19.40px;background:#4bade8;border-radius:3px"></div>
<svg class="abs" style="left:41px;top:511.50px" width="20" height="19.4" viewBox="0 0 20 19.4" fill="none" stroke="#fff" stroke-width="2.8" stroke-linecap="round" stroke-linejoin="round"><path d="M5.6 10.300 L8.600 13.200 L14.600 6.200"/></svg>
<span class="t" style="left:69.36px;top:513px;font-size:19.7px;line-height:19.7px;font-weight:400;color:#0052cc;letter-spacing:0.365px;-webkit-text-stroke:0.08px #0052cc;">TBA-227</span>
<span class="t" style="left:157.91px;top:513px;font-size:19.7px;line-height:19.7px;font-weight:400;color:#172b4d;letter-spacing:0.265px;-webkit-text-stroke:0.08px #172b4d;">Software ID should be sorted by id</span>
<div class="abs" style="left:41.00px;top:567.90px;width:20.00px;height:19.40px;background:#4bade8;border-radius:3px"></div>
<svg class="abs" style="left:41px;top:567.90px" width="20" height="19.4" viewBox="0 0 20 19.4" fill="none" stroke="#fff" stroke-width="2.8" stroke-linecap="round" stroke-linejoin="round"><path d="M5.6 10.300 L8.600 13.200 L14.600 6.200"/></svg>
<span class="t" style="left:69.36px;top:569px;font-size:19.7px;line-height:19.7px;font-weight:400;color:#0052cc;letter-spacing:0.594px;-webkit-text-stroke:0.08px #0052cc;">TBA-226</span>
<span class="t" style="left:159.66px;top:569px;font-size:19.7px;line-height:19.7px;font-weight:400;color:#172b4d;letter-spacing:0.442px;-webkit-text-stroke:0.08px #172b4d;">expanding location</span>
<div class="abs" style="left:41.00px;top:624.30px;width:20.00px;height:19.40px;background:#4bade8;border-radius:3px"></div>
<svg class="abs" style="left:41px;top:624.30px" width="20" height="19.4" viewBox="0 0 20 19.4" fill="none" stroke="#fff" stroke-width="2.8" stroke-linecap="round" stroke-linejoin="round"><path d="M5.6 10.300 L8.600 13.200 L14.600 6.200"/></svg>
<span class="t" style="left:69.36px;top:626px;font-size:19.7px;line-height:19.7px;font-weight:400;color:#0052cc;letter-spacing:0.578px;-webkit-text-stroke:0.08px #0052cc;">TBA-220</span>
<span class="t" style="left:159.18px;top:626px;font-size:19.7px;line-height:19.7px;font-weight:400;color:#172b4d;letter-spacing:0.507px;-webkit-text-stroke:0.08px #172b4d;">integrate load report</span>
<div class="abs" style="left:41.00px;top:680.70px;width:20.00px;height:19.40px;background:#4bade8;border-radius:3px"></div>
<svg class="abs" style="left:41px;top:680.70px" width="20" height="19.4" viewBox="0 0 20 19.4" fill="none" stroke="#fff" stroke-width="2.8" stroke-linecap="round" stroke-linejoin="round"><path d="M5.6 10.300 L8.600 13.200 L14.600 6.200"/></svg>
<span class="t" style="left:69.36px;top:682px;font-size:19.7px;line-height:19.7px;font-weight:400;color:#0052cc;letter-spacing:0.032px;-webkit-text-stroke:0.08px #0052cc;">TBA-212</span>
<span class="t" style="left:156.95px;top:682px;font-size:19.7px;line-height:19.7px;font-weight:400;color:#172b4d;letter-spacing:0.100px;-webkit-text-stroke:0.08px #172b4d;">save error</span>
<div class="abs" style="left:41.00px;top:737.10px;width:20.00px;height:19.40px;background:#4bade8;border-radius:3px"></div>
<svg class="abs" style="left:41px;top:737.10px" width="20" height="19.4" viewBox="0 0 20 19.4" fill="none" stroke="#fff" stroke-width="2.8" stroke-linecap="round" stroke-linejoin="round"><path d="M5.6 10.300 L8.600 13.200 L14.600 6.200"/></svg>
<span class="t" style="left:69.36px;top:739px;font-size:19.7px;line-height:19.7px;font-weight:400;color:#0052cc;letter-spacing:0.078px;-webkit-text-stroke:0.08px #0052cc;">TBA-210</span>
<span class="t" style="left:156.28px;top:739px;font-size:19.7px;line-height:19.7px;font-weight:400;color:#172b4d;letter-spacing:0.311px;-webkit-text-stroke:0.08px #172b4d;">Update for multiple values</span>
<div class="abs" style="left:41.00px;top:793.50px;width:20.00px;height:19.40px;background:#4bade8;border-radius:3px"></div>
<svg class="abs" style="left:41px;top:793.50px" width="20" height="19.4" viewBox="0 0 20 19.4" fill="none" stroke="#fff" stroke-width="2.8" stroke-linecap="round" stroke-linejoin="round"><path d="M5.6 10.300 L8.600 13.200 L14.600 6.200"/></svg>
<span class="t" style="left:69.36px;top:795px;font-size:19.7px;line-height:19.7px;font-weight:400;color:#0052cc;letter-spacing:0.093px;-webkit-text-stroke:0.08px #0052cc;">TBA-218</span>
<span class="t" style="left:156.18px;top:795px;font-size:19.7px;line-height:19.7px;font-weight:400;color:#172b4d;letter-spacing:0.280px;-webkit-text-stroke:0.08px #172b4d;">Export CSV file</span>
<div class="abs" style="left:381.00px;top:98.00px;width:13.00px;height:730.00px;background:linear-gradient(to right,rgba(255,255,255,0),rgba(255,255,255,.55) 35%,rgba(255,255,255,.93) 62%,rgba(255,255,255,1) 85%)"></div>
<div class="abs" style="left:394.00px;top:0.00px;width:340.00px;height:830.00px;background:#fff"></div>
<div class="abs" style="left:394.00px;top:45.50px;width:340.00px;height:44.30px;background:#fafbfc"></div>
<div class="abs" style="left:394.00px;top:89.80px;width:340.00px;height:8.00px;background:#fcfcfd"></div>
<div class="abs" style="left:0.00px;top:44.90px;width:733.50px;height:1.30px;background:#ebecee"></div>
<div class="abs" style="left:0.00px;top:89.00px;width:733.50px;height:1.40px;background:#ebecee"></div>
<div class="abs" style="left:534.90px;top:45.50px;width:1.20px;height:790.00px;background:#efefef"></div>
<div class="abs" style="left:675.90px;top:45.50px;width:1.20px;height:790.00px;background:#efefef"></div>
<div class="abs" style="left:0.00px;top:97.20px;width:733.50px;height:1.60px;background:#eeeeef"></div>
<div class="abs" style="left:0.00px;top:153.60px;width:733.50px;height:1.60px;background:#eeeeef"></div>
<div class="abs" style="left:0.00px;top:210.00px;width:733.50px;height:1.60px;background:#eeeeef"></div>
<div class="abs" style="left:0.00px;top:266.40px;width:733.50px;height:1.60px;background:#eeeeef"></div>
<div class="abs" style="left:0.00px;top:322.80px;width:733.50px;height:1.60px;background:#eeeeef"></div>
<div class="abs" style="left:0.00px;top:379.20px;width:733.50px;height:1.60px;background:#eeeeef"></div>
<div class="abs" style="left:0.00px;top:435.60px;width:733.50px;height:1.60px;background:#eeeeef"></div>
<div class="abs" style="left:0.00px;top:492.00px;width:733.50px;height:1.60px;background:#eeeeef"></div>
<div class="abs" style="left:0.00px;top:548.40px;width:733.50px;height:1.60px;background:#eeeeef"></div>
<div class="abs" style="left:0.00px;top:604.80px;width:733.50px;height:1.60px;background:#eeeeef"></div>
<div class="abs" style="left:0.00px;top:661.20px;width:733.50px;height:1.60px;background:#eeeeef"></div>
<div class="abs" style="left:0.00px;top:717.60px;width:733.50px;height:1.60px;background:#eeeeef"></div>
<div class="abs" style="left:0.00px;top:774.00px;width:733.50px;height:1.60px;background:#eeeeef"></div>
<div class="abs" style="left:0.00px;top:830.40px;width:733.50px;height:1.60px;background:#eeeeef"></div>
<div class="abs" style="left:394.00px;top:45.50px;width:11.00px;height:790.00px;background:linear-gradient(to right,rgba(9,30,66,.055),rgba(9,30,66,.022) 40%,rgba(9,30,66,0))"></div>
<svg class="abs" style="left:23px;top:11px" width="24" height="24" viewBox="50 145 24 24" fill="none" stroke="#707070" stroke-width="1.8" stroke-linejoin="round" stroke-linecap="round"><rect x="53.95" y="148.800" width="14.950" height="9.100" rx="1.600"/><path d="M58.200 153.700L60.500 155.500L63.800 152.200" stroke-width="1.600"/><path d="M54.800 161.150H67.900" stroke-width="1.900"/><path d="M55.800 163.950H66.900" stroke-width="1.700"/></svg>
<span class="t" style="left:52.11px;top:15px;font-size:17px;line-height:17px;font-weight:700;color:#707070;letter-spacing:2.070px;-webkit-text-stroke:0.3px #707070;">286</span>
<span class="t" style="left:90.96px;top:15px;font-size:17px;line-height:17px;font-weight:400;color:#707070;letter-spacing:0.440px;-webkit-text-stroke:0.2px #707070;">issue(s)</span>
<svg class="abs" style="left:166px;top:13px" width="22" height="19" viewBox="0 0 22 19" fill="none" stroke="#707070" stroke-width="1.7" stroke-linejoin="round"><path d="M1.6 3 a1 1 0 0 1 1-1 H8 L10.4 4.600 H18.600 a1 1 0 0 1 1 1 V15.600 a1 1 0 0 1 -1 1 H2.600 a1 1 0 0 1 -1 -1 Z"/></svg>
<span class="t" style="left:193.13px;top:15px;font-size:17px;line-height:17px;font-weight:700;color:#707070;letter-spacing:0.000px;-webkit-text-stroke:0.3px #707070;">1</span>
<span class="t" style="left:212.70px;top:15px;font-size:17px;line-height:17px;font-weight:400;color:#707070;letter-spacing:0.734px;-webkit-text-stroke:0.2px #707070;">project(s)</span>
<svg class="abs" style="left:701.6px;top:15px" width="19" height="15" viewBox="0 0 19 15" fill="none" stroke="#a9a9a9" stroke-width="2.5" stroke-linecap="round" stroke-linejoin="round"><path d="M3.4 2.6 L8.4 7.4 L3.4 12.200 M11.400 2.600 L16.400 7.400 L11.400 12.200"/></svg>
<span class="t" style="left:11.65px;top:60px;font-size:20.2px;line-height:20.2px;font-weight:700;color:#344563;letter-spacing:-0.028px;">Issue</span>
<span class="t" style="left:406.62px;top:60px;font-size:20.2px;line-height:20.2px;font-weight:700;color:#344563;letter-spacing:0.315px;">Status</span>
<span class="t" style="left:547.05px;top:60px;font-size:20.2px;line-height:20.2px;font-weight:700;color:#344563;letter-spacing:0.177px;">Priority</span>
<span class="t" style="left:688.90px;top:60px;font-size:20.2px;line-height:20.2px;font-weight:700;color:#344563;letter-spacing:-0.100px;width:44.4px;overflow:hidden;">Assignee</span>
<div class="abs" style="left:406.60px;top:116.60px;width:62.20px;height:19.50px;background:#dfe1e6;border-radius:3.5px"></div>
<span class="t" style="left:413.43px;top:120px;font-size:15.4px;line-height:15.4px;font-weight:700;color:#42526e;letter-spacing:-0.061px;">TO DO</span>
<div class="abs" style="left:550.20px;top:121.50px;width:17.00px;height:2.80px;background:#ffab00;border-radius:1.4px"></div>
<div class="abs" style="left:550.20px;top:129.40px;width:17.00px;height:2.80px;background:#ffab00;border-radius:1.4px"></div>
<span class="t" style="left:575.28px;top:118px;font-size:19.7px;line-height:19.7px;font-weight:400;color:#172b4d;letter-spacing:0.690px;-webkit-text-stroke:0.08px #172b4d;">Medium</span>
<svg class="abs" style="left:691.00px;top:109.40px" width="34" height="34"><use href="#avA"/></svg>
<div class="abs" style="left:406.60px;top:173.00px;width:62.20px;height:19.50px;background:#dfe1e6;border-radius:3.5px"></div>
<span class="t" style="left:413.43px;top:176px;font-size:15.4px;line-height:15.4px;font-weight:700;color:#42526e;letter-spacing:-0.061px;">TO DO</span>
<div class="abs" style="left:550.20px;top:178.00px;width:17.00px;height:2.80px;background:#ffab00;border-radius:1.4px"></div>
<div class="abs" style="left:550.20px;top:185.90px;width:17.00px;height:2.80px;background:#ffab00;border-radius:1.4px"></div>
<span class="t" style="left:575.28px;top:175px;font-size:19.7px;line-height:19.7px;font-weight:400;color:#172b4d;letter-spacing:0.690px;-webkit-text-stroke:0.08px #172b4d;">Medium</span>
<svg class="abs" style="left:691.00px;top:165.80px" width="34" height="34"><use href="#avDD"/></svg>
<span class="t" style="left:697.47px;top:177px;font-size:14.2px;line-height:14.2px;font-weight:700;color:#fff;letter-spacing:0.200px;">DD</span>
<div class="abs" style="left:406.60px;top:229.40px;width:62.20px;height:19.50px;background:#dfe1e6;border-radius:3.5px"></div>
<span class="t" style="left:413.43px;top:232px;font-size:15.4px;line-height:15.4px;font-weight:700;color:#42526e;letter-spacing:-0.061px;">TO DO</span>
<div class="abs" style="left:550.20px;top:234.00px;width:17.00px;height:2.80px;background:#ffab00;border-radius:1.4px"></div>
<div class="abs" style="left:550.20px;top:241.90px;width:17.00px;height:2.80px;background:#ffab00;border-radius:1.4px"></div>
<span class="t" style="left:575.28px;top:231px;font-size:19.7px;line-height:19.7px;font-weight:400;color:#172b4d;letter-spacing:0.690px;-webkit-text-stroke:0.08px #172b4d;">Medium</span>
<svg class="abs" style="left:691.00px;top:222.20px" width="34" height="34"><use href="#avB"/></svg>
<div class="abs" style="left:406.60px;top:285.80px;width:62.20px;height:19.50px;background:#dfe1e6;border-radius:3.5px"></div>
<span class="t" style="left:413.43px;top:289px;font-size:15.4px;line-height:15.4px;font-weight:700;color:#42526e;letter-spacing:-0.061px;">TO DO</span>
<div class="abs" style="left:550.20px;top:290.50px;width:17.00px;height:2.80px;background:#ffab00;border-radius:1.4px"></div>
<div class="abs" style="left:550.20px;top:298.40px;width:17.00px;height:2.80px;background:#ffab00;border-radius:1.4px"></div>
<span class="t" style="left:575.28px;top:287px;font-size:19.7px;line-height:19.7px;font-weight:400;color:#172b4d;letter-spacing:0.690px;-webkit-text-stroke:0.08px #172b4d;">Medium</span>
<svg class="abs" style="left:691.00px;top:278.60px" width="34" height="34"><use href="#avB"/></svg>
<div class="abs" style="left:406.60px;top:342.20px;width:62.20px;height:19.50px;background:#dfe1e6;border-radius:3.5px"></div>
<span class="t" style="left:413.43px;top:345px;font-size:15.4px;line-height:15.4px;font-weight:700;color:#42526e;letter-spacing:-0.061px;">TO DO</span>
<div class="abs" style="left:550.20px;top:347.00px;width:17.00px;height:2.80px;background:#ffab00;border-radius:1.4px"></div>
<div class="abs" style="left:550.20px;top:354.90px;width:17.00px;height:2.80px;background:#ffab00;border-radius:1.4px"></div>
<span class="t" style="left:575.28px;top:344px;font-size:19.7px;line-height:19.7px;font-weight:400;color:#172b4d;letter-spacing:0.690px;-webkit-text-stroke:0.08px #172b4d;">Medium</span>
<svg class="abs" style="left:691.00px;top:335.00px" width="34" height="34"><use href="#avC"/></svg>
<div class="abs" style="left:406.60px;top:398.60px;width:62.20px;height:19.50px;background:#dfe1e6;border-radius:3.5px"></div>
<span class="t" style="left:413.43px;top:402px;font-size:15.4px;line-height:15.4px;font-weight:700;color:#42526e;letter-spacing:-0.061px;">TO DO</span>
<div class="abs" style="left:550.20px;top:403.50px;width:17.00px;height:2.80px;background:#ffab00;border-radius:1.4px"></div>
<div class="abs" style="left:550.20px;top:411.40px;width:17.00px;height:2.80px;background:#ffab00;border-radius:1.4px"></div>
<span class="t" style="left:575.28px;top:400px;font-size:19.7px;line-height:19.7px;font-weight:400;color:#172b4d;letter-spacing:0.690px;-webkit-text-stroke:0.08px #172b4d;">Medium</span>
<svg class="abs" style="left:691.00px;top:391.40px" width="34" height="34"><use href="#avB"/></svg>
<div class="abs" style="left:406.60px;top:455.00px;width:62.20px;height:19.50px;background:#dfe1e6;border-radius:3.5px"></div>
<span class="t" style="left:413.43px;top:458px;font-size:15.4px;line-height:15.4px;font-weight:700;color:#42526e;letter-spacing:-0.061px;">TO DO</span>
<div class="abs" style="left:550.20px;top:460.00px;width:17.00px;height:2.80px;background:#ffab00;border-radius:1.4px"></div>
<div class="abs" style="left:550.20px;top:467.90px;width:17.00px;height:2.80px;background:#ffab00;border-radius:1.4px"></div>
<span class="t" style="left:575.28px;top:457px;font-size:19.7px;line-height:19.7px;font-weight:400;color:#172b4d;letter-spacing:0.690px;-webkit-text-stroke:0.08px #172b4d;">Medium</span>
<svg class="abs" style="left:691.00px;top:447.80px" width="34" height="34"><use href="#avB"/></svg>
<div class="abs" style="left:406.60px;top:511.40px;width:62.20px;height:19.50px;background:#dfe1e6;border-radius:3.5px"></div>
<span class="t" style="left:413.43px;top:514px;font-size:15.4px;line-height:15.4px;font-weight:700;color:#42526e;letter-spacing:-0.061px;">TO DO</span>
<div class="abs" style="left:550.20px;top:516.00px;width:17.00px;height:2.80px;background:#ffab00;border-radius:1.4px"></div>
<div class="abs" style="left:550.20px;top:523.90px;width:17.00px;height:2.80px;background:#ffab00;border-radius:1.4px"></div>
<span class="t" style="left:575.28px;top:513px;font-size:19.7px;line-height:19.7px;font-weight:400;color:#172b4d;letter-spacing:0.690px;-webkit-text-stroke:0.08px #172b4d;">Medium</span>
<svg class="abs" style="left:691.00px;top:504.20px" width="34" height="34"><use href="#avB"/></svg>
<div class="abs" style="left:406.60px;top:567.80px;width:62.20px;height:19.50px;background:#dfe1e6;border-radius:3.5px"></div>
<span class="t" style="left:413.43px;top:571px;font-size:15.4px;line-height:15.4px;font-weight:700;color:#42526e;letter-spacing:-0.061px;">TO DO</span>
<div class="abs" style="left:550.20px;top:572.50px;width:17.00px;height:2.80px;background:#ffab00;border-radius:1.4px"></div>
<div class="abs" style="left:550.20px;top:580.40px;width:17.00px;height:2.80px;background:#ffab00;border-radius:1.4px"></div>
<span class="t" style="left:575.28px;top:569px;font-size:19.7px;line-height:19.7px;font-weight:400;color:#172b4d;letter-spacing:0.690px;-webkit-text-stroke:0.08px #172b4d;">Medium</span>
<svg class="abs" style="left:691.00px;top:560.60px" width="34" height="34"><use href="#avA"/></svg>
<div class="abs" style="left:406.60px;top:624.20px;width:62.20px;height:19.50px;background:#dfe1e6;border-radius:3.5px"></div>
<span class="t" style="left:413.43px;top:627px;font-size:15.4px;line-height:15.4px;font-weight:700;color:#42526e;letter-spacing:-0.061px;">TO DO</span>
<div class="abs" style="left:550.20px;top:629.00px;width:17.00px;height:2.80px;background:#ffab00;border-radius:1.4px"></div>
<div class="abs" style="left:550.20px;top:636.90px;width:17.00px;height:2.80px;background:#ffab00;border-radius:1.4px"></div>
<span class="t" style="left:575.28px;top:626px;font-size:19.7px;line-height:19.7px;font-weight:400;color:#172b4d;letter-spacing:0.690px;-webkit-text-stroke:0.08px #172b4d;">Medium</span>
<svg class="abs" style="left:691.00px;top:617.00px" width="34" height="34"><use href="#avB"/></svg>
<div class="abs" style="left:406.60px;top:680.60px;width:62.20px;height:19.50px;background:#dfe1e6;border-radius:3.5px"></div>
<span class="t" style="left:413.43px;top:684px;font-size:15.4px;line-height:15.4px;font-weight:700;color:#42526e;letter-spacing:-0.061px;">TO DO</span>
<div class="abs" style="left:550.20px;top:685.50px;width:17.00px;height:2.80px;background:#ffab00;border-radius:1.4px"></div>
<div class="abs" style="left:550.20px;top:693.40px;width:17.00px;height:2.80px;background:#ffab00;border-radius:1.4px"></div>
<span class="t" style="left:575.28px;top:682px;font-size:19.7px;line-height:19.7px;font-weight:400;color:#172b4d;letter-spacing:0.690px;-webkit-text-stroke:0.08px #172b4d;">Medium</span>
<svg class="abs" style="left:691.00px;top:673.40px" width="34" height="34"><use href="#avC"/></svg>
<div class="abs" style="left:406.60px;top:737.00px;width:62.20px;height:19.50px;background:#dfe1e6;border-radius:3.5px"></div>
<span class="t" style="left:413.43px;top:740px;font-size:15.4px;line-height:15.4px;font-weight:700;color:#42526e;letter-spacing:-0.061px;">TO DO</span>
<div class="abs" style="left:550.20px;top:742.00px;width:17.00px;height:2.80px;background:#ffab00;border-radius:1.4px"></div>
<div class="abs" style="left:550.20px;top:749.90px;width:17.00px;height:2.80px;background:#ffab00;border-radius:1.4px"></div>
<span class="t" style="left:575.28px;top:739px;font-size:19.7px;line-height:19.7px;font-weight:400;color:#172b4d;letter-spacing:0.690px;-webkit-text-stroke:0.08px #172b4d;">Medium</span>
<svg class="abs" style="left:691.00px;top:729.80px" width="34" height="34"><use href="#avD"/></svg>
<div class="abs" style="left:406.60px;top:793.40px;width:62.20px;height:19.50px;background:#dfe1e6;border-radius:3.5px"></div>
<span class="t" style="left:413.43px;top:796px;font-size:15.4px;line-height:15.4px;font-weight:700;color:#42526e;letter-spacing:-0.061px;">TO DO</span>
<div class="abs" style="left:550.20px;top:798.00px;width:17.00px;height:2.80px;background:#ffab00;border-radius:1.4px"></div>
<div class="abs" style="left:550.20px;top:805.90px;width:17.00px;height:2.80px;background:#ffab00;border-radius:1.4px"></div>
<span class="t" style="left:575.28px;top:795px;font-size:19.7px;line-height:19.7px;font-weight:400;color:#172b4d;letter-spacing:0.690px;-webkit-text-stroke:0.08px #172b4d;">Medium</span>
<svg class="abs" style="left:691.00px;top:786.20px" width="34" height="34"><use href="#avB"/></svg>
<div class="abs" style="left:740.40px;top:0.00px;width:900.00px;height:0.80px;background:#f3f4f6"></div>
<div class="abs" style="left:732.60px;top:0.00px;width:8.00px;height:830.00px;background:#d3d7df"></div>
</div></div>
</body></html>
